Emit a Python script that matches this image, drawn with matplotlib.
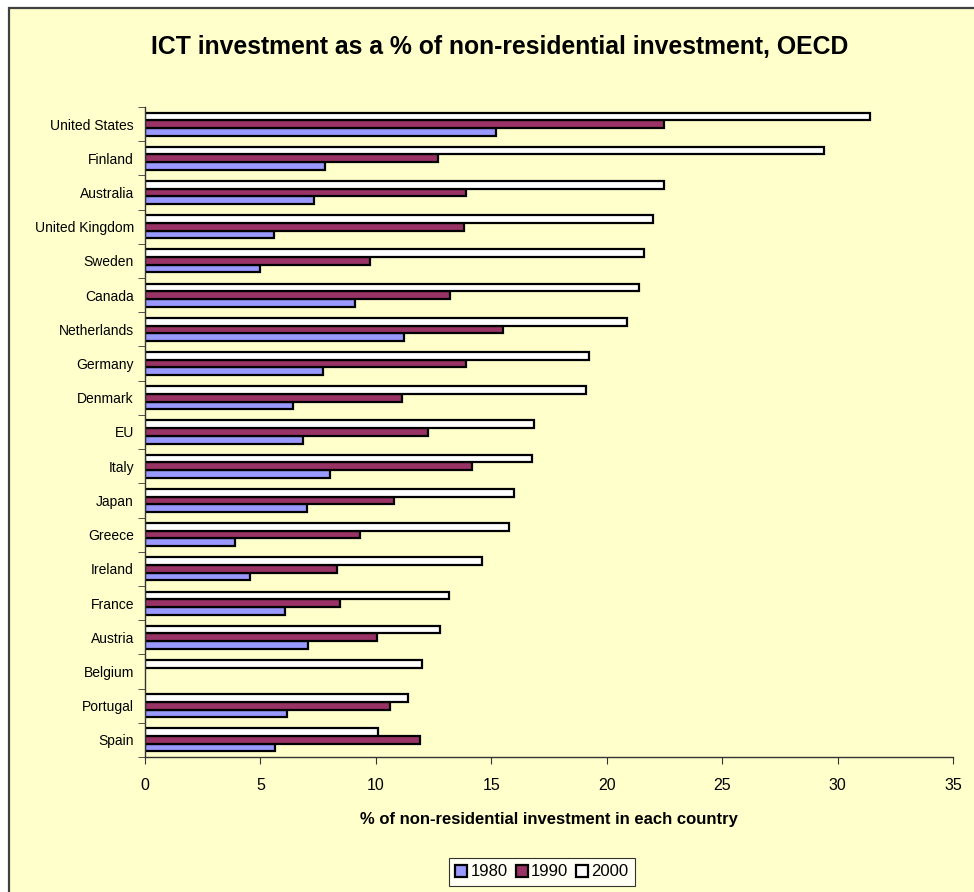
import numpy as np
import matplotlib
matplotlib.use("Agg")
import matplotlib.pyplot as plt
from matplotlib.patches import Rectangle

plt.rcParams["font.family"] = ["Liberation Sans", "DejaVu Sans"]

countries = ["United States", "Finland", "Australia", "United Kingdom", "Sweden",
             "Canada", "Netherlands", "Germany", "Denmark", "EU", "Italy", "Japan",
             "Greece", "Ireland", "France", "Austria", "Belgium", "Portugal", "Spain"]
v1980 = [15.2, 7.8, 7.3, 5.6, 5.0, 9.1, 11.2, 7.7, 6.4, 6.85, 8.0, 7.0,
         3.9, 4.55, 6.05, 7.05, np.nan, 6.15, 5.65]
v1990 = [22.5, 12.7, 13.9, 13.8, 9.75, 13.2, 15.5, 13.9, 11.15, 12.25, 14.15, 10.8,
         9.3, 8.3, 8.45, 10.05, np.nan, 10.6, 11.9]
v2000 = [31.4, 29.4, 22.5, 22.0, 21.6, 21.4, 20.9, 19.25, 19.1, 16.85, 16.75, 16.0,
         15.75, 14.6, 13.15, 12.8, 12.0, 11.4, 10.1]
years = ["1980", "1990", "2000"]
colors = ["#9999FF", "#993366", "#FFFFFF"]

BG = "#FFFFCC"
fig = plt.figure(figsize=(9.74, 8.92), dpi=100, facecolor="white")
fig.patches.append(Rectangle((9 / 974, -0.01), 1.0, 1 - 8 / 892 + 0.01,
                             transform=fig.transFigure, facecolor=BG,
                             edgecolor="#404040", lw=1.6, zorder=-10))

ax = fig.add_axes([145 / 974, 1 - 757 / 892, (953 - 145) / 974, (757 - 107) / 892])
ax.set_facecolor("none")
ax.set_zorder(2)

n = len(countries)
y = np.arange(n)[::-1]
h = 0.225
for vals, off, c, lab in zip([v1980, v1990, v2000], [-h, 0, h], colors, years):
    ax.barh(y + off, vals, height=h, color=c, edgecolor="black", lw=1.6, label=lab)

ax.set_xlim(0, 35)
ax.set_ylim(-0.5, n - 0.5)
ax.set_xticks(np.arange(0, 36, 5))
ax.tick_params(axis="x", labelsize=11.5, length=5, direction="out", pad=10, color="#333333")
ax.set_yticks(y)
ax.set_yticklabels(countries, fontsize=10)
ax.tick_params(axis="y", length=0, pad=8)
ax.set_yticks(np.arange(n + 1) - 0.5, minor=True)
ax.tick_params(axis="y", which="minor", length=5, direction="out", color="#333333")
for s in ["top", "right"]:
    ax.spines[s].set_visible(False)
for s in ["left", "bottom"]:
    ax.spines[s].set_color("#333333")
    ax.spines[s].set_linewidth(1.0)

ax.set_xlabel("% of non-residential investment in each country",
              fontsize=12, fontweight="bold", labelpad=14)
fig.text(500 / 974, 1 - 47 / 892, "ICT investment as a % of non-residential investment, OECD",
         ha="center", va="center", fontsize=17.8, fontweight="bold")

leg = fig.legend(loc="center", bbox_to_anchor=(542 / 974, 1 - 872 / 892), ncol=3,
                 fontsize=12, frameon=True, fancybox=False, edgecolor="black",
                 handlelength=0.7, handleheight=0.7, handletextpad=0.2,
                 columnspacing=0.5, borderpad=0.4)
leg.get_frame().set_linewidth(0.8)

fig.savefig("out.png", dpi=100, facecolor="white")
